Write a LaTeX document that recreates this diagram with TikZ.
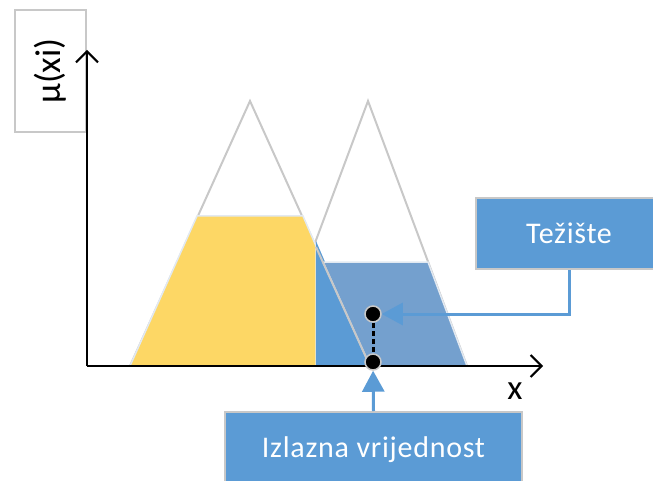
\documentclass[tikz,border=0pt]{standalone}
\usepackage{fontspec}
\setmainfont{Carlito}
\newfontfamily\spaced[LetterSpace=2.5]{Carlito}
\usepackage{tikz}
\usetikzlibrary{arrows.meta}
\definecolor{boxblue}{HTML}{5B9BD5}
\definecolor{paleblue}{HTML}{74A0CE}
\definecolor{gold}{HTML}{FDD765}
\definecolor{edgegray}{HTML}{C8C8C8}
\definecolor{rim}{HTML}{E2E9F1}

\begin{document}
\begin{tikzpicture}[x=1pt, y=-1pt,
  labelbox/.style={rectangle, draw=edgegray, line width=2pt, fill=boxblue, text=white, font=\spaced\fontsize{30}{36}\selectfont, inner sep=0pt},
  axisbox/.style={rectangle, draw=edgegray, line width=2pt, fill=white, font=\fontsize{36}{40}\selectfont, inner sep=0pt},
  dot/.style={circle, fill=black, draw=edgegray, line width=1.5pt, minimum size=16pt, inner sep=0pt},
  callout/.style={draw=boxblue, line width=3pt, -{Triangle[length=21pt,width=22pt]}},
  axis/.style={line width=2pt, -{Straight Barb[length=11pt,width=22pt]}},
  side/.style={draw=edgegray, line width=2pt},
  area/.style={draw=rim, line width=1.5pt}]
  \useasboundingbox (0,0) rectangle (653,481);
  % triangles
  \draw [side] (130,366) -- (250,101) -- (370,366);
  \draw [side] (269,366) -- (368,101) -- (467,366);
  \fill [gold, area] (130,366) -- (197,216) -- (303,216) -- (316,246) -- (316,366) -- cycle;
  \fill [boxblue] (316,241) -- (316,366) -- (370,366) -- cycle;
  \fill [paleblue, area] (370,366) -- (323,262) -- (428,262) -- (467,366);
  \draw [side] (316,247) -- (370,366);
  \node [axisbox, rotate=90, minimum width=122pt, minimum height=71pt] (mu) at (50.5,71) {μ(xi)};
  % axes
  \coordinate (o) at (87,366);
  \coordinate (ytop) at (87,50);
  \coordinate (xend) at (543,366);
  \draw [axis] (o) -- (ytop);
  \draw [axis] (o) -- (xend);
  \node [font=\fontsize{35}{40}\selectfont, inner sep=0pt] (xlab) at (515,391) {x};
  % boxes
  \node [labelbox, minimum width=186pt, minimum height=71pt] (tez) at (569,233.5) {Težište};
  \node [labelbox, minimum width=297pt, minimum height=76pt] (izl) at (373.5,450) {Izlazna vrijednost};
  \node [dot] (cen) at (373,314) {};
  \node [dot] (out) at (373,362) {};
  \draw [line width=3pt, dashed, dash pattern=on 5pt off 3pt] (cen) -- (out);
  \draw [callout] (tez.south) |- (cen);
  \draw [callout] (izl.north) -- (out);
\end{tikzpicture}
\end{document}
